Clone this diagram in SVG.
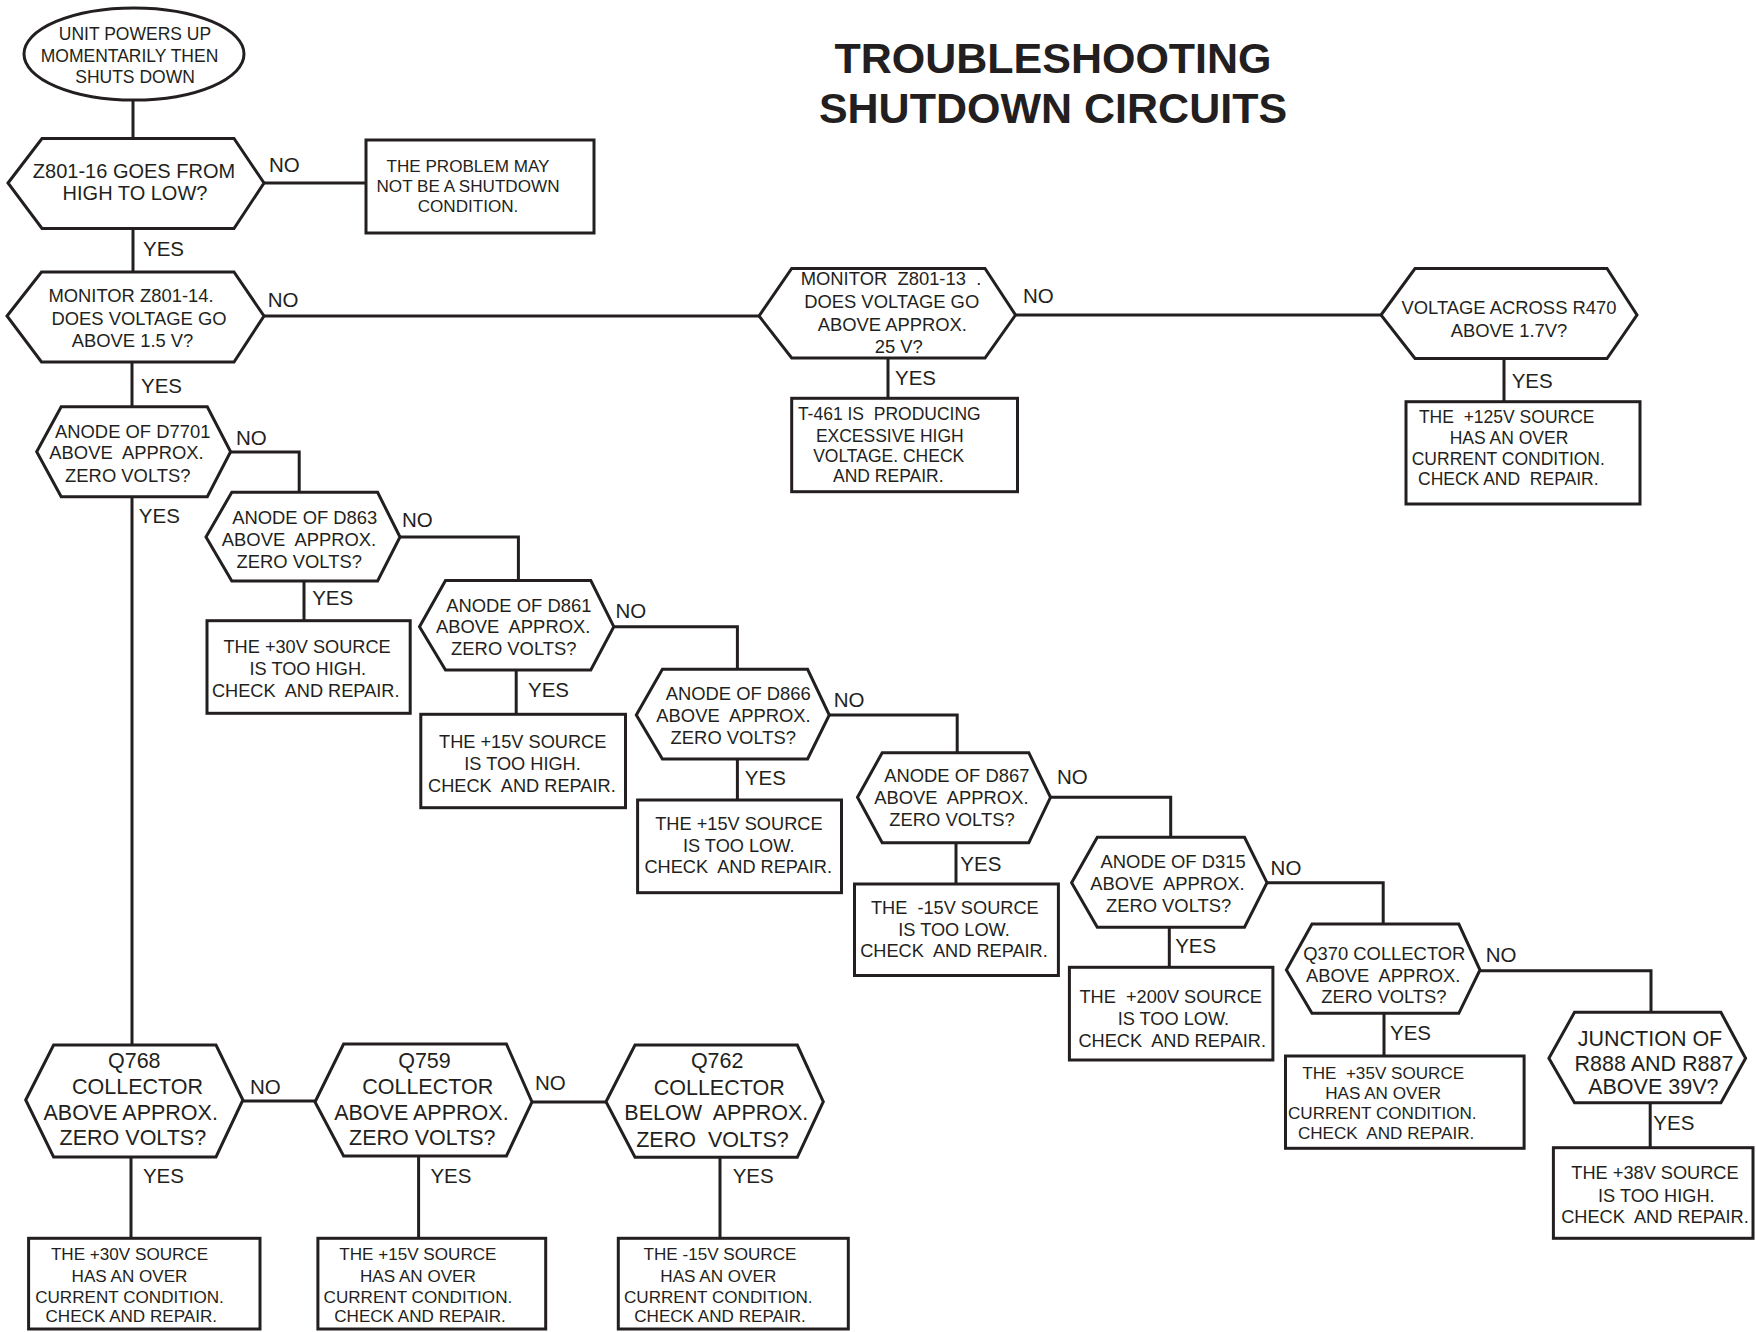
<svg xmlns="http://www.w3.org/2000/svg" width="1756" height="1332" viewBox="0 0 1756 1332">
<style>
.s{fill:#fff;stroke:#231f20;stroke-width:3;stroke-linejoin:miter}
.c{fill:none;stroke:#231f20;stroke-width:3}
text{font-family:"Liberation Sans",Arial,sans-serif;fill:#231f20;text-anchor:middle}
.f17{font-size:17.1px}.f175{font-size:17.5px}.f18{font-size:18.2px}.f185{font-size:18.4px}.f20{font-size:20px}.f215{font-size:21.5px}
.l{font-size:20.5px;text-anchor:start}
.ttl{font-size:43px;font-weight:bold}
</style>
<rect width="1756" height="1332" fill="#fff"/>
<g id="title"><text class="ttl" x="1053" y="72.7">TROUBLESHOOTING</text><text class="ttl" x="1053" y="123.3">SHUTDOWN CIRCUITS</text></g>
<g id="connectors">
<path class="c" d="M133 100V138.5"/>
<path class="c" d="M264 183H366"/>
<path class="c" d="M133 228.5V272"/>
<path class="c" d="M264 316H759"/>
<path class="c" d="M1015.5 315H1381"/>
<path class="c" d="M888 358V398.3"/>
<path class="c" d="M1504 358.5V401.7"/>
<path class="c" d="M132 362V406.7"/>
<path class="c" d="M230.6 452H299.2V492.3"/>
<path class="c" d="M132 496.7V1045"/>
<path class="c" d="M304 581V620.7"/>
<path class="c" d="M400 537H518.4V581"/>
<path class="c" d="M516.2 670V714.3"/>
<path class="c" d="M613.8 626.7H737.4V669.3"/>
<path class="c" d="M737.4 759V800"/>
<path class="c" d="M829.3 715H957.2V752.7"/>
<path class="c" d="M956 842.7V884"/>
<path class="c" d="M1050.5 797.3H1170.7V837.3"/>
<path class="c" d="M1169.3 927.3V967.3"/>
<path class="c" d="M1267 882.7H1383.2V924"/>
<path class="c" d="M1384 1013.3V1056"/>
<path class="c" d="M1480 970.7H1651V1012.3"/>
<path class="c" d="M1650.2 1102.7V1147.7"/>
<path class="c" d="M131 1157V1238.3"/>
<path class="c" d="M242.9 1101H315"/>
<path class="c" d="M418.6 1156V1238.3"/>
<path class="c" d="M532 1102H606"/>
<path class="c" d="M720 1157.3V1238.3"/>
</g>
<g id="labels">
<text class="l" x="269" y="172.3">NO</text>
<text class="l" x="143" y="256">YES</text>
<text class="l" x="267.7" y="306.7">NO</text>
<text class="l" x="141" y="393">YES</text>
<text class="l" x="1023" y="303.3">NO</text>
<text class="l" x="895" y="385">YES</text>
<text class="l" x="1511.7" y="388.3">YES</text>
<text class="l" x="236" y="445">NO</text>
<text class="l" x="138.8" y="522.7">YES</text>
<text class="l" x="402" y="526.7">NO</text>
<text class="l" x="312.2" y="605">YES</text>
<text class="l" x="615.5" y="618.3">NO</text>
<text class="l" x="528" y="696.7">YES</text>
<text class="l" x="833.7" y="706.7">NO</text>
<text class="l" x="744.8" y="785">YES</text>
<text class="l" x="1057" y="784">NO</text>
<text class="l" x="960.3" y="870.7">YES</text>
<text class="l" x="1270.6" y="875">NO</text>
<text class="l" x="1175.2" y="953.3">YES</text>
<text class="l" x="1485.8" y="961.7">NO</text>
<text class="l" x="1390" y="1040">YES</text>
<text class="l" x="1653.3" y="1130">YES</text>
<text class="l" x="250" y="1094">NO</text>
<text class="l" x="142.9" y="1183.3">YES</text>
<text class="l" x="535" y="1090">NO</text>
<text class="l" x="430.4" y="1183">YES</text>
<text class="l" x="732.7" y="1182.7">YES</text>
</g>
<g id="start"><ellipse class="s" cx="134" cy="54" rx="110" ry="46"/>
<text class="f175" x="135" y="40">UNIT POWERS UP</text><text class="f175" x="129.5" y="61.7">MOMENTARILY THEN</text><text class="f175" x="135" y="83.3">SHUTS DOWN</text></g>
<g id="q1"><polygon class="s" points="8,183 42,138.5 234,138.5 264,183 234,228.5 42,228.5"/>
<text class="f20" x="134" y="178.3">Z801-16 GOES FROM</text><text class="f20" x="135" y="200">HIGH TO LOW?</text></g>
<g id="r1"><rect class="s" x="366" y="140" width="228" height="93"/>
<text class="f17" x="468" y="171.7">THE PROBLEM MAY</text><text class="f17" x="468" y="192.3">NOT BE A SHUTDOWN</text><text class="f17" x="468" y="212.3">CONDITION.</text></g>
<g id="q2"><polygon class="s" points="7,316 41.5,272 234,272 264,316 234,362 41.5,362"/>
<text class="f185" x="131" y="301.7">MONITOR Z801-14.</text><text class="f185" x="139" y="325">DOES VOLTAGE GO</text><text class="f185" x="132.5" y="346.7">ABOVE 1.5 V?</text></g>
<g id="q3"><polygon class="s" points="759,316 791.7,268.5 985,268.5 1015.5,315 985,358 791.7,358"/>
<text class="f185" x="891" y="285" xml:space="preserve">MONITOR  Z801-13  .</text><text class="f185" x="891.7" y="308.3">DOES VOLTAGE GO</text><text class="f185" x="892.3" y="331">ABOVE APPROX.</text><text class="f185" x="898.8" y="353">25 V?</text></g>
<g id="q4"><polygon class="s" points="1381,315 1415,268.5 1607,268.5 1637,315 1607,358.5 1415,358.5"/>
<text class="f185" x="1509" y="314">VOLTAGE ACROSS R470</text><text class="f185" x="1509" y="337">ABOVE 1.7V?</text></g>
<g id="r3"><rect class="s" x="791.7" y="398.3" width="225.8" height="93.4"/>
<text class="f175" x="889.3" y="420" xml:space="preserve">T-461 IS  PRODUCING</text><text class="f175" x="889.8" y="441.7">EXCESSIVE HIGH</text><text class="f175" x="888.7" y="461.7">VOLTAGE. CHECK</text><text class="f175" x="888.3" y="481.7">AND REPAIR.</text></g>
<g id="r4"><rect class="s" x="1406" y="401.7" width="234" height="102.3"/>
<text class="f175" x="1506.7" y="423.3" xml:space="preserve">THE  +125V SOURCE</text><text class="f175" x="1509" y="444.3">HAS AN OVER</text><text class="f175" x="1508.3" y="465">CURRENT CONDITION.</text><text class="f175" x="1508.3" y="485" xml:space="preserve">CHECK AND  REPAIR.</text></g>
<g id="d7701"><polygon class="s" points="36.7,451.7 61.2,406.7 207.3,406.7 230.6,451.7 207.3,496.7 61.2,496.7"/>
<text class="f185" x="132.7" y="438.3">ANODE OF D7701</text><text class="f185" x="126.5" y="459" xml:space="preserve">ABOVE  APPROX.</text><text class="f185" x="127.8" y="481.7">ZERO VOLTS?</text></g>
<g id="d863"><polygon class="s" points="206,537 231.8,492.3 377.6,492.3 400,537 377.6,581 231.8,581"/>
<text class="f185" x="304.7" y="524">ANODE OF D863</text><text class="f185" x="299" y="545.7" xml:space="preserve">ABOVE  APPROX.</text><text class="f185" x="299.2" y="567.7">ZERO VOLTS?</text></g>
<g id="r863"><rect class="s" x="207" y="620.7" width="203.2" height="92.6"/>
<text class="f18" x="307.1" y="653.3">THE +30V SOURCE</text><text class="f18" x="307.8" y="675">IS TOO HIGH.</text><text class="f18" x="305.7" y="696.7" xml:space="preserve">CHECK  AND REPAIR.</text></g>
<g id="d861"><polygon class="s" points="419.5,626.7 445.5,580.5 590.8,580.5 613.8,626.7 590.8,670 445.5,670"/>
<text class="f185" x="518.8" y="611.7">ANODE OF D861</text><text class="f185" x="513.2" y="633.3" xml:space="preserve">ABOVE  APPROX.</text><text class="f185" x="513.8" y="655">ZERO VOLTS?</text></g>
<g id="r861"><rect class="s" x="420.8" y="714.3" width="204.7" height="93.4"/>
<text class="f18" x="522.7" y="748.3">THE +15V SOURCE</text><text class="f18" x="522.5" y="770">IS TOO HIGH.</text><text class="f18" x="521.9" y="791.7" xml:space="preserve">CHECK  AND REPAIR.</text></g>
<g id="d866"><polygon class="s" points="636.3,715 662.4,669.3 807.6,669.3 829.3,715 807.6,759 662.4,759"/>
<text class="f185" x="738.2" y="700">ANODE OF D866</text><text class="f185" x="733.5" y="721.7" xml:space="preserve">ABOVE  APPROX.</text><text class="f185" x="733.3" y="744">ZERO VOLTS?</text></g>
<g id="r866"><rect class="s" x="637.6" y="800" width="203.9" height="92.7"/>
<text class="f18" x="738.9" y="830">THE +15V SOURCE</text><text class="f18" x="738.7" y="851.7">IS TOO LOW.</text><text class="f18" x="738.2" y="873.3" xml:space="preserve">CHECK  AND REPAIR.</text></g>
<g id="d867"><polygon class="s" points="857.5,797.3 882.2,752.7 1028.8,752.7 1050.5,797.3 1028.8,842.7 882.2,842.7"/>
<text class="f185" x="956.8" y="781.7">ANODE OF D867</text><text class="f185" x="951.4" y="804" xml:space="preserve">ABOVE  APPROX.</text><text class="f185" x="952" y="826">ZERO VOLTS?</text></g>
<g id="r867"><rect class="s" x="854.5" y="884" width="203.9" height="91.5"/>
<text class="f18" x="954.8" y="914" xml:space="preserve">THE  -15V SOURCE</text><text class="f18" x="954" y="935.7">IS TOO LOW.</text><text class="f18" x="954" y="957.3" xml:space="preserve">CHECK  AND REPAIR.</text></g>
<g id="d315"><polygon class="s" points="1071.6,882.7 1097.3,837.3 1244.5,837.3 1267,882.7 1244.5,927.3 1097.3,927.3"/>
<text class="f185" x="1173.1" y="868.3">ANODE OF D315</text><text class="f185" x="1167.5" y="890" xml:space="preserve">ABOVE  APPROX.</text><text class="f185" x="1168.6" y="911.7">ZERO VOLTS?</text></g>
<g id="r315"><rect class="s" x="1069.4" y="967.3" width="203.5" height="92.7"/>
<text class="f18" x="1170.7" y="1003.3" xml:space="preserve">THE  +200V SOURCE</text><text class="f18" x="1173.4" y="1025">IS TOO LOW.</text><text class="f18" x="1172.2" y="1046.7" xml:space="preserve">CHECK  AND REPAIR.</text></g>
<g id="q370"><polygon class="s" points="1286.4,970 1312,924 1458.8,924 1480,970 1458.8,1013.3 1312,1013.3"/>
<text class="f185" x="1384.3" y="960">Q370 COLLECTOR</text><text class="f185" x="1383.2" y="981.7" xml:space="preserve">ABOVE  APPROX.</text><text class="f185" x="1383.9" y="1003.3">ZERO VOLTS?</text></g>
<g id="r370"><rect class="s" x="1285.5" y="1056" width="238.6" height="92.3"/>
<text class="f17" x="1383.2" y="1079.3" xml:space="preserve">THE  +35V SOURCE</text><text class="f17" x="1383.2" y="1099.3">HAS AN OVER</text><text class="f17" x="1382.3" y="1119.3">CURRENT CONDITION.</text><text class="f17" x="1386.1" y="1139.3" xml:space="preserve">CHECK  AND REPAIR.</text></g>
<g id="junction"><polygon class="s" points="1548.9,1058.3 1574.5,1012.3 1720.9,1012.3 1745.6,1058.3 1720.9,1102.7 1574.5,1102.7"/>
<text class="f215" x="1650" y="1046">JUNCTION OF</text><text class="f215" x="1654" y="1070.7">R888 AND R887</text><text class="f215" x="1653.3" y="1094">ABOVE 39V?</text></g>
<g id="rj"><rect class="s" x="1553.4" y="1147.7" width="199.6" height="90.6"/>
<text class="f18" x="1655" y="1179.3">THE +38V SOURCE</text><text class="f18" x="1656.3" y="1201.7">IS TOO HIGH.</text><text class="f18" x="1655" y="1223.3" xml:space="preserve">CHECK  AND REPAIR.</text></g>
<g id="q768"><polygon class="s" points="25.7,1100 53.6,1045 216,1045 242.9,1100 216,1157 53.6,1157"/>
<text class="f215" x="134.3" y="1068.3">Q768</text><text class="f215" x="137.5" y="1094">COLLECTOR</text><text class="f215" x="130.7" y="1120">ABOVE APPROX.</text><text class="f215" x="132.9" y="1145">ZERO VOLTS?</text></g>
<g id="r768"><rect class="s" x="28.6" y="1238.3" width="231.4" height="90.7"/>
<text class="f17" x="129.5" y="1260">THE +30V SOURCE</text><text class="f17" x="129.5" y="1281.7">HAS AN OVER</text><text class="f17" x="129.5" y="1302.7">CURRENT CONDITION.</text><text class="f17" x="131.3" y="1321.7">CHECK AND REPAIR.</text></g>
<g id="q759"><polygon class="s" points="315,1102 343.6,1044 506.4,1044 532,1102 506.4,1156 343.6,1156"/>
<text class="f215" x="424.5" y="1068.3">Q759</text><text class="f215" x="427.7" y="1094">COLLECTOR</text><text class="f215" x="421.4" y="1120">ABOVE APPROX.</text><text class="f215" x="422.3" y="1145">ZERO VOLTS?</text></g>
<g id="r759"><rect class="s" x="317.9" y="1238.3" width="227.8" height="90.7"/>
<text class="f17" x="417.9" y="1260">THE +15V SOURCE</text><text class="f17" x="417.9" y="1281.7">HAS AN OVER</text><text class="f17" x="417.9" y="1302.7">CURRENT CONDITION.</text><text class="f17" x="420" y="1321.7">CHECK AND REPAIR.</text></g>
<g id="q762"><polygon class="s" points="606,1101.7 635,1045 797.3,1045 823.3,1101.7 797.3,1157.3 635,1157.3"/>
<text class="f215" x="717.2" y="1068.3">Q762</text><text class="f215" x="719.2" y="1095">COLLECTOR</text><text class="f215" x="716.3" y="1120" xml:space="preserve">BELOW  APPROX.</text><text class="f215" x="712.5" y="1147.3" xml:space="preserve">ZERO  VOLTS?</text></g>
<g id="r762"><rect class="s" x="618.3" y="1238.3" width="230" height="90.7"/>
<text class="f17" x="720" y="1260">THE -15V SOURCE</text><text class="f17" x="718.3" y="1281.7">HAS AN OVER</text><text class="f17" x="718.3" y="1302.7">CURRENT CONDITION.</text><text class="f17" x="720" y="1321.7">CHECK AND REPAIR.</text></g>
</svg>
